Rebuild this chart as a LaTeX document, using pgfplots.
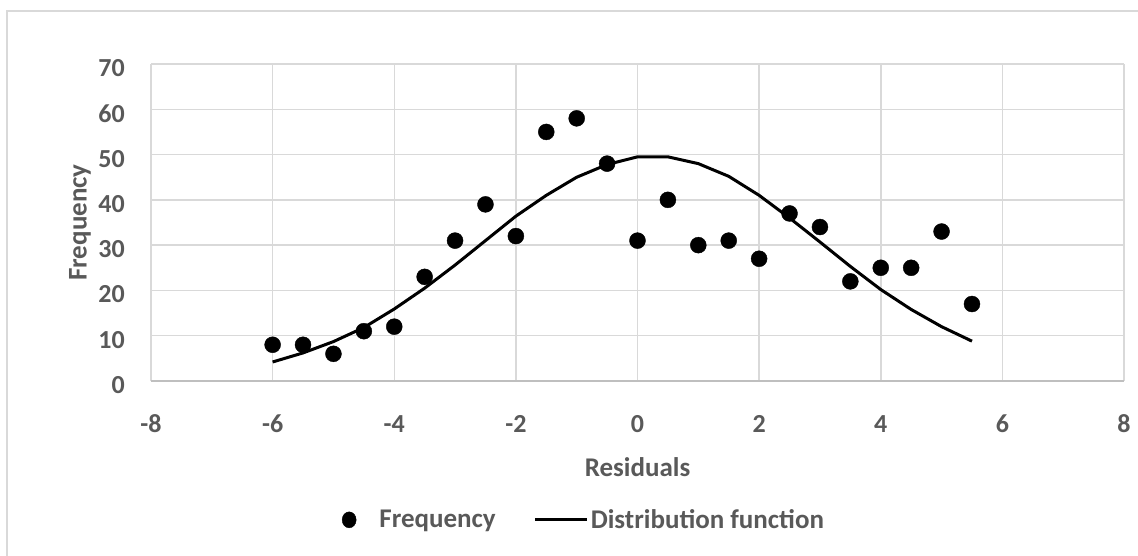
\documentclass[border=0pt]{standalone}
\usepackage{pgfplots}
\pgfplotsset{compat=1.18}
\usepackage{fontspec}
\setmainfont{Carlito}
\definecolor{txt}{HTML}{595959}
\definecolor{gridc}{HTML}{D9D9D9}
\definecolor{axc}{HTML}{BFBFBF}
\begin{document}
\begin{tikzpicture}[x=1pt,y=1pt]
\useasboundingbox (0,0) rectangle (1138,555);
\draw[gridc, line width=1.5pt] (7,-5) -- (7,544) -- (1150,544);
\begin{axis}[
  at={(151pt,174pt)}, anchor=south west,
  scale only axis, width=973pt, height=317pt,
  xmin=-8, xmax=8, ymin=0, ymax=70,
  xtick={-8,-6,...,8}, ytick={0,10,...,70},
  grid=major, major grid style={gridc, line width=1.5pt},
  axis line style={draw=none},
  major tick length=0pt,
  /pgf/number format/assume math mode=true,
  ticklabel style={font=\fontsize{26}{31}\selectfont\bfseries, text=txt, inner sep=0pt},
  xticklabel style={anchor=center, yshift=-43pt},
  yticklabel style={anchor=east, xshift=-26pt, yshift=-4pt},
  xlabel={Residuals}, ylabel={Frequency},
  label style={font=\fontsize{27}{32}\selectfont\bfseries, text=txt, inner sep=0pt},
  xlabel style={at={(axis description cs:0.5,0)}, anchor=center, yshift=-86pt},
  ylabel style={at={(axis description cs:0,0.5)}, anchor=center, rotate=0, yshift=71pt},
  legend style={at={(axis description cs:0.445,-0.438)}, anchor=center, draw=none, fill=none,
    legend columns=2, font=\fontsize{27}{32}\selectfont\bfseries, text=txt,
    /tikz/every even column/.append style={column sep=36pt}},
  legend cell align=left,
]
\draw[axc, line width=1.5pt] (axis cs:-8,0) -- (axis cs:8,0);
\addplot[only marks, mark=*, mark size=8pt, black,
  legend image code/.code={\fill[black] (0,0) ellipse (7pt and 8pt); \path (28pt,0);}] coordinates {
(-6,8) (-5.5,8) (-5,6) (-4.5,11) (-4,12) (-3.5,23) (-3,31) (-2.5,39) (-2,32) (-1.5,55) (-1,58) (-0.5,48)
(0,31) (0.5,40) (1,30) (1.5,31) (2,27) (2.5,37) (3,34) (3.5,22) (4,25) (4.5,25) (5,33) (5.5,17)
};
\addlegendentry{Frequency}
\addplot[black, line width=3pt, sharp plot, line join=round,
  legend image code/.code={\draw[black, line width=3pt] (0pt,0) -- (52pt,0);}] coordinates {
(-6,4.2) (-5.5,6.2) (-5,8.7) (-4.5,11.8) (-4,15.9) (-3.5,20.5) (-3,25.6) (-2.5,31.0) (-2,36.4) (-1.5,41.0)
(-1,45.0) (-0.5,47.8) (0,49.5) (0.5,49.5) (1,48.0) (1.5,45.2) (2,41.0) (2.5,36.0) (3,30.7) (3.5,25.3)
(4,20.2) (4.5,15.8) (5,12.0) (5.5,8.8)
};
\addlegendentry{Distribution function}
\end{axis}
\end{tikzpicture}
\end{document}
